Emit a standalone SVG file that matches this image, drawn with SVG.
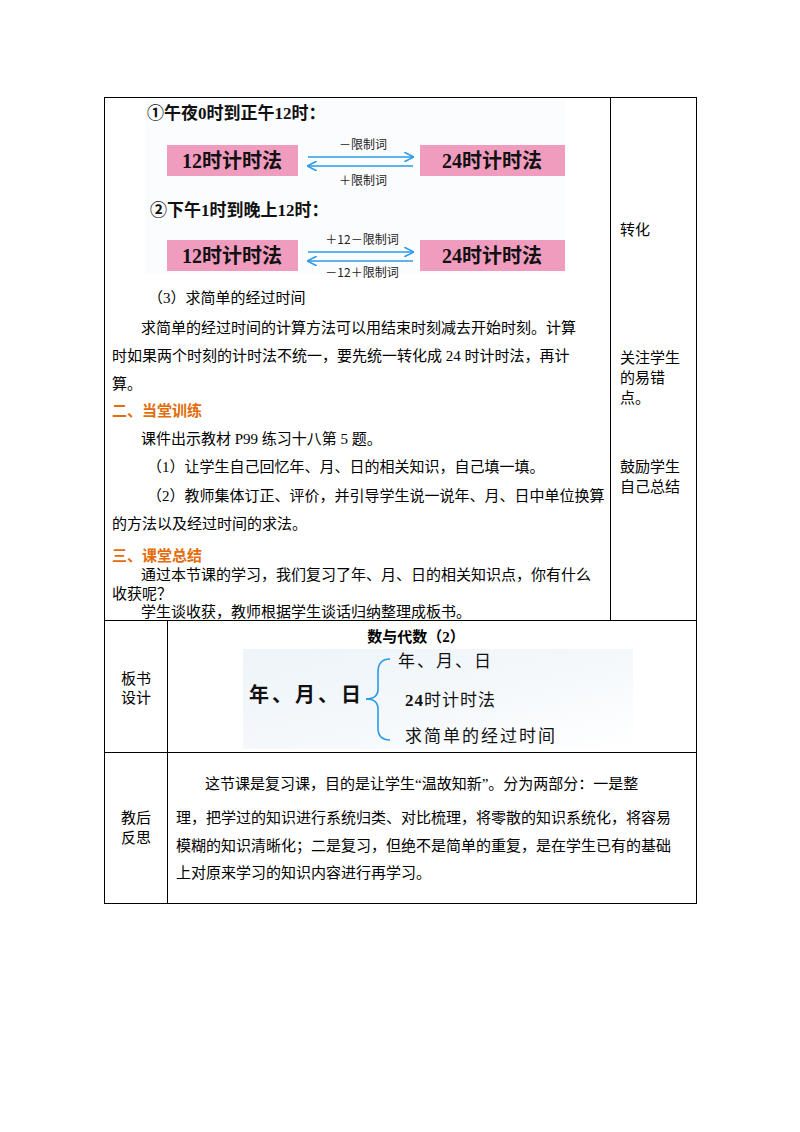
<svg xmlns="http://www.w3.org/2000/svg" width="800" height="1132" viewBox="0 0 800 1132">
<defs>
<style>
.t{font-family:"Liberation Serif","Noto Sans CJK SC",serif;font-size:15px;fill:#000}
.h{font-family:"Liberation Sans","Noto Sans CJK SC",sans-serif;font-size:15px;font-weight:bold;fill:#e36c0a}
.b{font-family:"Liberation Serif","Noto Sans CJK SC",serif;font-weight:bold;fill:#111}
.s{font-family:"Noto Sans CJK SC",sans-serif;font-size:12px;fill:#222}
.box{fill:#f09cbf}
.ln{stroke:#000;stroke-width:1;fill:none}
.ar{stroke:#2a9be6;stroke-width:1.6;fill:none}
</style>
<marker id="ah" viewBox="0 0 10 10" refX="9" refY="5" markerWidth="6" markerHeight="6" orient="auto-start-reverse"><path d="M0,0 L10,5 L0,10" fill="none" stroke="#2a9be6" stroke-width="1.6"/></marker>
<linearGradient id="bg" x1="0" y1="0" x2="1" y2="1"><stop offset="0" stop-color="#eef4f9"/><stop offset="0.5" stop-color="#f4f8fb"/><stop offset="1" stop-color="#ffffff"/></linearGradient>
</defs>
<rect width="800" height="1132" fill="#fff"/>
<g id="table">
<rect x="104.5" y="97.5" width="592" height="806" class="ln"/>
<line x1="610.5" y1="97" x2="610.5" y2="620" class="ln"/>
<line x1="104" y1="620.5" x2="697" y2="620.5" class="ln"/>
<line x1="167.5" y1="620" x2="167.5" y2="903" class="ln"/>
<line x1="104" y1="752.5" x2="697" y2="752.5" class="ln"/>
</g>
<g id="pic1">
<rect x="145" y="99" width="420" height="175" fill="#fbfcfd"/>
<text x="147" y="119" class="b" font-size="17">①午夜0时到正午12时：</text>
<rect x="167" y="145" width="131" height="31" class="box"/>
<text x="232" y="168" class="b" font-size="20" text-anchor="middle">12时计时法</text>
<rect x="420" y="145" width="145" height="31" class="box"/>
<text x="492" y="168" class="b" font-size="20" text-anchor="middle">24时计时法</text>
<text x="363" y="149" class="s" text-anchor="middle">－限制词</text>
<text x="363" y="185" class="s" text-anchor="middle">＋限制词</text>
<text x="150" y="216" class="b" font-size="17">②下午1时到晚上12时：</text>
<rect x="167" y="240" width="131" height="31" class="box"/>
<text x="232" y="263" class="b" font-size="20" text-anchor="middle">12时计时法</text>
<rect x="420" y="240" width="145" height="31" class="box"/>
<text x="492" y="263" class="b" font-size="20" text-anchor="middle">24时计时法</text>
<text x="362" y="244" class="s" text-anchor="middle">＋12－限制词</text>
<text x="362" y="277" class="s" text-anchor="middle">－12＋限制词</text>
</g>
<g id="body">
<text x="148" y="303" class="t">（3）求简单的经过时间</text>
<text x="141" y="333" class="t">求简单的经过时间的计算方法可以用结束时刻减去开始时刻。计算</text>
<text x="112" y="361" class="t">时如果两个时刻的计时法不统一，要先统一转化成 24 时计时法，再计</text>
<text x="112" y="389" class="t">算。</text>
<text x="112" y="416" class="h">二、当堂训练</text>
<text x="141" y="444" class="t">课件出示教材 P99 练习十八第 5 题。</text>
<text x="147" y="472" class="t">（1）让学生自己回忆年、月、日的相关知识，自己填一填。</text>
<text x="147" y="501" class="t">（2）教师集体订正、评价，并引导学生说一说年、月、日中单位换算</text>
<text x="112" y="529" class="t">的方法以及经过时间的求法。</text>
<text x="112" y="561" class="h">三、课堂总结</text>
<text x="141" y="580" class="t">通过本节课的学习，我们复习了年、月、日的相关知识点，你有什么</text>
<text x="112" y="599" class="t">收获呢？</text>
<text x="141" y="617" class="t">学生谈收获，教师根据学生谈话归纳整理成板书。</text>
</g>
<g id="notes">
<text x="620" y="235" class="t">转化</text>
<text x="620" y="363" class="t">关注学生</text>
<text x="620" y="383" class="t">的易错</text>
<text x="620" y="403" class="t">点。</text>
<text x="620" y="472" class="t">鼓励学生</text>
<text x="620" y="492" class="t">自己总结</text>
</g>
<g id="board">
<text x="136" y="684" class="t" text-anchor="middle">板书</text>
<text x="136" y="703" class="t" text-anchor="middle">设计</text>
<text x="416" y="642" class="t" font-weight="bold" text-anchor="middle" font-family="Noto Sans CJK SC,sans-serif">数与代数（2）</text>
<rect x="243" y="649" width="390" height="100" fill="url(#bg)"/>
<text x="249" y="702" class="b" font-size="20" letter-spacing="3">年、月、日</text>
<text x="398" y="667" font-family="Noto Sans CJK SC,serif" font-size="17" fill="#111" letter-spacing="2">年、月、日</text>
<text x="405" y="706" font-family="Liberation Serif,Noto Sans CJK SC,serif" font-size="17" fill="#111" letter-spacing="1"><tspan font-weight="bold">24</tspan>时计时法</text>
<text x="405" y="742" font-family="Noto Sans CJK SC,serif" font-size="17" fill="#111" letter-spacing="2">求简单的经过时间</text>
</g>
<g id="reflect">
<text x="136" y="823" class="t" text-anchor="middle">教后</text>
<text x="136" y="843" class="t" text-anchor="middle">反思</text>
<text x="205" y="789" class="t">这节课是复习课，目的是让学生“温故知新”。分为两部分：一是整</text>
<text x="176" y="823" class="t">理，把学过的知识进行系统归类、对比梳理，将零散的知识系统化，将容易</text>
<text x="176" y="851" class="t">模糊的知识清晰化；二是复习，但绝不是简单的重复，是在学生已有的基础</text>
<text x="176" y="878" class="t">上对原来学习的知识内容进行再学习。</text>
</g>
<g id="connectors">
<line x1="308" y1="157" x2="413" y2="157" class="ar" marker-end="url(#ah)"/>
<line x1="308" y1="166" x2="413" y2="166" class="ar" marker-start="url(#ah)"/>
<line x1="308" y1="252" x2="413" y2="252" class="ar" marker-end="url(#ah)"/>
<line x1="308" y1="261" x2="413" y2="261" class="ar" marker-start="url(#ah)"/>
<path d="M366,699 Q378,699 378,689 L378,672 Q378,659 390,659" class="ar"/>
<path d="M366,699 Q378,699 378,709 L378,728 Q378,740 390,740" class="ar"/>
</g>
</svg>
